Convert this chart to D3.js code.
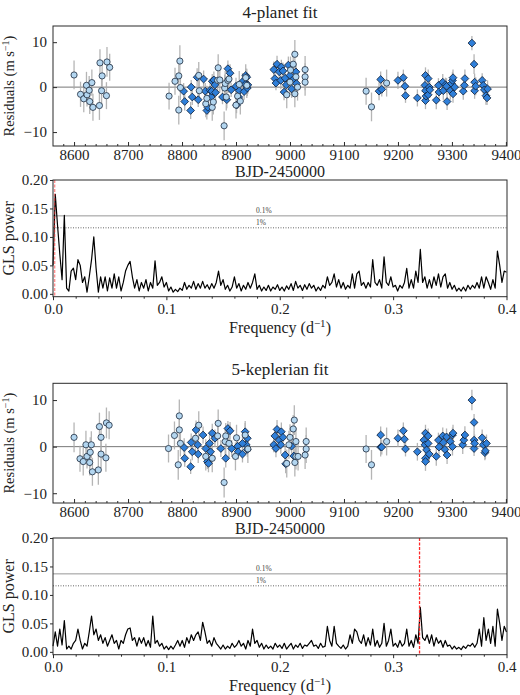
<!DOCTYPE html>
<html><head><meta charset="utf-8">
<script src="https://cdn.jsdelivr.net/npm/d3@7"></script>
<style>html,body{margin:0;padding:0;background:#fff}svg{display:block}</style>
</head><body>
<svg id="c" width="520" height="695"></svg>
<script>
// ---------- DATA ----------
const panelTitles = ["4-planet fit", "5-keplerian fit"];
const timeTicks = [8600, 8700, 8800, 8900, 9000, 9100, 9200, 9300, 9400];
const residTicks = [-10, 0, 10];
const freqTicks = [0.0, 0.1, 0.2, 0.3, 0.4];
const freqTickLabels = ["0.0", "0.1", "0.2", "0.3", "0.4"];
const glsTicks = [0.00, 0.05, 0.10, 0.15, 0.20];
const glsTickLabels = ["0.00", "0.05", "0.10", "0.15", "0.20"];
const faps = [0.137, 0.116];
const fapLabels = ["0.1%", "1%"];
const markedFreqs = [0.0015, 0.3233];

// 4-planet fit residuals: instrument 1 (circles)
const circA_t = [8600,8612,8618,8623,8624,8628,8629,8633,8635,8647,8648,8651,8652,8660,8661,8666,
 8776,8787,8794,8796,8794,8797,8831,8832,8844,8846,8856,8858,8866,8867,8870,8878,8879,8880,8882,8885,8887,8900,8903,8906,8908,8918,8920,
 8994,9000,9001,9006,9009,9009,9011,9014,9028,9028,9028,9141,9151,9179];
const circA_v = [2.7,-1.6,-2.6,0.4,-1.7,-0.7,-3.2,1.0,-4.5,-4.1,5.4,-0.8,2.5,-1.9,5.6,4.4,
 -2.0,1.3,2.5,5.8,-5.1,-0.1,2.6,-0.8,-3.7,-2.5,-4.5,-3.3,1.5,4.3,1.6,-8.6,-0.2,0.8,-2.2,1.5,1.8,-4.0,-2.0,0.6,-3.1,2.1,0.4,
 -1.7,1.1,3.8,5.1,7.3,-1.5,2.3,0.0,3.9,2.3,1.1,-0.9,-4.4,0.9];
const circA_e = [3.2,2.8,3.0,3.0,2.6,3.2,2.8,2.9,3.0,3.2,3.0,3.1,3.0,3.0,3.3,3.0,
 3.0,3.0,3.2,3.5,3.2,2.8,3.0,2.8,3.0,2.8,3.0,2.8,3.0,3.0,2.8,3.2,3.0,2.8,3.0,2.8,3.0,3.0,2.8,3.0,3.0,3.0,2.8,
 3.0,2.8,3.0,3.0,3.2,3.0,2.8,3.0,3.0,3.0,3.0,3.0,3.2,3.0];
// 4-planet fit residuals: instrument 2 (diamonds)
const diaA_t = [8803,8805,8817,8816,8819,8828,8830,8840,8843,8846,8848,8852,8854,8855,8856,8859,8861,8862,8875,8883,8885,8889,8891,8900,8901,8905,8906,8912,8915,8917,8918,8920,8921,8922,
 8970,8972,8974,8976,8980,8983,8984,8987,8989,8991,8993,8997,9000,9003,9005,9011,9012,
 9168,9165,9170,9200,9210,9213,9214,9236,9251,9250,9251,9251,9252,9256,9256,9258,9259,9271,9275,9276,9283,9284,9288,9291,9290,9297,9299,9301,9302,9302,9305,
 9321,9323,9324,9337,9341,9342,9342,9344,9356,9358,9360,9363,9365,9366];
const diaA_v = [-0.9,-3.2,0.0,-5.2,-2.2,2.2,-2.8,1.8,-0.9,-5.2,-4.5,-0.7,-2.2,-0.9,1.3,1.6,0.5,-1.2,-2.2,-2.8,4.1,3.1,-0.6,0.2,-4.0,-2.2,-0.8,1.2,-1.0,0.6,2.6,2.2,-0.2,0.5,
 3.9,1.9,0.9,5.1,3.4,1.5,4.5,3.6,-1.1,2.0,0.5,4.9,2.6,-0.4,1.6,3.4,0.8,
 1.7,-0.9,-0.5,1.5,2.1,0.2,-1.9,-2.4,2.6,0.4,-0.8,-3.0,-2.0,1.9,-1.7,0.0,-0.6,-2.9,0.4,-1.1,1.1,-0.8,0.5,-3.2,0.2,-0.8,0.8,1.5,2.1,-1.5,0.0,
 -0.9,0.4,1.9,9.8,5.1,1.1,-0.8,0.2,1.5,0.4,-0.6,-1.9,-2.4,-0.4];
const diaA_e = [1.8,2.0,1.6,1.9,1.8,2.0,1.6,1.9,1.8,2.0,1.6,1.9,1.8,2.0,1.6,1.9,1.8,2.0,1.6,1.9,1.8,2.0,1.6,1.9,1.8,2.0,1.6,1.9,1.8,2.0,1.6,1.9,1.8,2.0,
 1.8,2.0,1.6,1.9,1.8,2.0,1.6,1.9,1.8,2.0,1.6,1.9,1.8,2.0,1.6,1.9,1.8,
 1.8,2.0,1.6,1.9,1.8,2.0,1.6,1.9,1.8,2.0,1.6,1.9,1.8,2.0,1.6,1.9,1.8,2.0,1.6,1.9,1.8,2.0,1.6,1.9,1.8,2.0,1.6,1.9,1.8,2.0,1.6,1.9,
 1.8,2.0,1.6,2.2,1.9,1.8,2.0,1.6,1.9,1.8,2.0,1.6,1.9,1.8];

// 5-keplerian fit residuals: instrument 1 (circles)
const circB_t = [8600,8611,8617,8622,8624,8629,8630,8632,8634,8645,8647,8650,8650,8659,8660,8665,
 8775,8786,8795,8795,8793,8797,8825,8831,8844,8856,8866,8867,8878,8880,8881,8887,8899,8901,8917,8922,
 8994,8998,9000,9006,9008,9011,9011,9009,9015,9030,9030,9028,9141,9151,9179];
const circB_v = [2.0,-2.6,-3.2,0.4,-2.1,-3.4,-1.2,0.4,-5.4,-5.0,4.3,2.0,-1.6,-2.4,5.1,4.6,
 -0.4,2.4,3.6,6.6,-3.9,0.7,1.8,4.6,-2.1,-2.5,2.3,5.0,-7.7,1.1,2.3,0.7,-2.1,1.9,2.5,-0.5,
 -3.6,0.4,2.0,3.8,5.7,1.1,-2.1,-3.4,-2.1,1.1,-0.5,-1.8,-0.5,-3.9,1.1];
const circB_e = [3.2,2.8,3.0,3.0,2.6,2.8,3.2,2.9,3.0,3.2,3.0,3.0,3.1,3.0,3.3,3.0,
 3.0,3.0,3.2,3.5,3.2,2.8,3.0,3.0,3.0,3.0,3.0,3.0,3.2,3.0,2.8,3.0,3.0,2.8,3.0,3.0,
 3.0,3.0,2.8,3.0,3.2,3.0,2.8,3.0,3.0,3.0,3.0,3.0,3.0,3.2,3.0];
// 5-keplerian fit residuals: instrument 2 (diamonds)
const diaB_t = [8805,8804,8816,8817,8819,8826,8829,8830,8839,8844,8847,8849,8851,8856,8853,8861,8872,8881,8885,8889,8892,8903,8904,8917,8921,8919,8921,8912,8912,
 8972,8976,8970,8974,8980,8984,8987,8983,8991,8992,9003,9007,
 9168,9168,9170,9200,9210,9212,9214,9236,9251,9248,9250,9253,9251,9251,9256,9256,9258,9271,9275,9276,9283,9284,9287,9291,9290,9297,9301,9301,9302,
 9320,9322,9324,9337,9341,9341,9341,9342,9356,9358,9361,9364,9362];
const diaB_v = [-2.5,-0.2,-4.3,0.9,-1.1,3.6,0.4,-1.6,2.5,-0.4,-3.2,-3.6,0.7,2.9,-1.1,1.8,-0.4,-2.5,3.9,3.4,-0.4,0.1,-1.1,3.2,1.8,0.4,-0.6,0.7,-1.6,
 2.3,3.7,0.4,-0.4,1.4,3.2,2.0,0.4,-1.8,-3.7,0.1,-2.0,
 2.5,-0.1,-0.1,1.8,3.4,1.6,-0.5,-1.1,2.9,1.4,0.4,-0.7,-2.5,-3.2,2.3,0.7,-1.6,-2.1,1.4,-0.1,2.3,0.9,-0.6,-1.8,2.1,1.1,2.5,0.0,2.9,
 0.4,1.4,2.5,10.0,5.2,1.4,-0.4,0.7,1.9,0.4,-1.3,0.7,-0.9];
const diaB_e = [1.8,2.0,1.6,1.9,1.8,2.0,1.6,1.9,1.8,2.0,1.6,1.9,1.8,2.0,1.6,1.9,1.8,2.0,1.6,1.9,1.8,2.0,1.6,1.9,1.8,2.0,1.6,1.9,1.8,
 1.8,2.0,1.6,1.9,1.8,2.0,1.6,1.9,1.8,2.0,1.6,1.9,
 1.8,2.0,1.6,1.9,1.8,2.0,1.6,1.9,1.8,2.0,1.6,1.9,1.8,2.0,1.6,1.9,1.8,2.0,1.6,1.9,1.8,2.0,1.6,1.9,1.8,2.0,1.6,1.9,1.8,
 2.0,1.6,1.9,2.2,1.8,2.0,1.6,1.9,1.8,2.0,1.6,1.9,1.8];

// GLS periodograms of the residuals, frequency step 0.002 d^-1 from 0 to 0.4
const glsStep = 0.002;
const glsA = [0.05,0.175,0.12,0.07,0.025,0.138,0.01,0.005,0.04,0.045,0.025,0.06,0.05,0.02,0.03,0.003,0.03,0.06,0.10,0.045,
 0.003,0.03,0.01,0.03,0.005,0.028,0.01,0.035,0.01,0.03,0.005,0.02,0.04,0.05,0.057,0.03,0.01,0.025,0.005,0.02,
 0.01,0.025,0.005,0.02,0.01,0.058,0.015,0.02,0.03,0.012,0.02,0.005,0.012,0.003,0.008,0.004,0.01,0.006,0.02,0.008,
 0.015,0.01,0.022,0.008,0.018,0.01,0.022,0.01,0.016,0.008,0.018,0.01,0.02,0.04,0.015,0.025,0.008,0.015,0.005,0.012,
 0.03,0.01,0.018,0.005,0.015,0.008,0.02,0.01,0.02,0.035,0.008,0.015,0.005,0.012,0.006,0.015,0.005,0.012,0.008,0.016,
 0.006,0.012,0.005,0.014,0.008,0.018,0.006,0.022,0.01,0.015,0.006,0.016,0.008,0.018,0.01,0.015,0.005,0.012,0.006,0.015,
 0.01,0.03,0.015,0.02,0.035,0.012,0.025,0.01,0.02,0.008,0.015,0.01,0.035,0.01,0.035,0.04,0.015,0.02,0.01,0.02,
 0.012,0.06,0.02,0.015,0.025,0.01,0.065,0.02,0.015,0.03,0.012,0.015,0.005,0.015,0.01,0.02,0.045,0.01,0.025,0.01,
 0.04,0.02,0.078,0.02,0.03,0.01,0.025,0.01,0.03,0.015,0.035,0.012,0.03,0.035,0.01,0.02,0.008,0.015,0.005,0.01,
 0.005,0.012,0.005,0.015,0.008,0.015,0.01,0.02,0.01,0.03,0.01,0.03,0.02,0.008,0.025,0.01,0.075,0.05,0.02,0.04,0.038];
const glsB = [0.01,0.035,0.01,0.04,0.012,0.055,0.005,0.01,0.005,0.015,0.02,0.04,0.02,0.005,0.015,0.01,0.035,0.063,0.03,0.04,
 0.02,0.03,0.015,0.025,0.01,0.02,0.03,0.015,0.02,0.005,0.02,0.015,0.03,0.04,0.042,0.02,0.025,0.01,0.025,0.015,
 0.025,0.01,0.02,0.008,0.063,0.015,0.02,0.01,0.015,0.005,0.01,0.004,0.01,0.005,0.012,0.02,0.01,0.02,0.008,0.025,
 0.015,0.03,0.02,0.03,0.035,0.02,0.052,0.035,0.015,0.02,0.01,0.025,0.015,0.01,0.005,0.012,0.005,0.01,0.006,0.015,
 0.008,0.012,0.02,0.01,0.015,0.005,0.02,0.01,0.04,0.015,0.02,0.008,0.015,0.005,0.012,0.006,0.01,0.005,0.015,0.008,
 0.012,0.006,0.015,0.005,0.01,0.015,0.005,0.012,0.008,0.015,0.006,0.012,0.01,0.015,0.02,0.01,0.012,0.006,0.015,0.008,
 0.01,0.045,0.02,0.01,0.045,0.015,0.01,0.006,0.012,0.005,0.01,0.03,0.015,0.04,0.035,0.02,0.015,0.03,0.01,0.025,
 0.012,0.04,0.01,0.02,0.008,0.015,0.05,0.01,0.02,0.04,0.01,0.015,0.008,0.02,0.01,0.015,0.04,0.01,0.02,0.008,
 0.03,0.015,0.078,0.025,0.02,0.03,0.015,0.03,0.01,0.025,0.015,0.02,0.008,0.02,0.01,0.012,0.005,0.01,0.005,0.008,
 0.004,0.01,0.006,0.012,0.01,0.015,0.008,0.015,0.04,0.01,0.06,0.02,0.04,0.015,0.045,0.01,0.075,0.05,0.02,0.045,0.035];

// ---------- DRAWING ----------
const svg = d3.select("#c");
const FONT = "'Liberation Serif', 'DejaVu Serif', serif";
const L = 53, R = 507;

const xTime = d3.scaleLinear().domain([8561, 9402]).range([L, R]);
const xFreq = d3.scaleLinear().domain([0, 0.4]).range([L, 506.5]);

function frame(g, top, bottom) {
  g.append("rect").attr("x", L).attr("y", top).attr("width", R - L).attr("height", bottom - top)
    .attr("fill", "none").attr("stroke", "#2a2a2a").attr("stroke-width", 1);
}

function styleAxis(a) {
  a.select(".domain").remove();
  a.selectAll(".tick line").attr("stroke", "#2a2a2a");
  a.selectAll(".tick text").attr("font-family", FONT).attr("font-size", 15).attr("fill", "#222");
}

function residPanel(top, bottom, yDomain, title, cT, cV, cE, dT, dV, dE) {
  const g = svg.append("g");
  const y = d3.scaleLinear().domain(yDomain).range([bottom, top]);
  g.append("line").attr("x1", L).attr("x2", R).attr("y1", y(0)).attr("y2", y(0))
    .attr("stroke", "#777").attr("stroke-width", 1);
  const minor = d3.range(8580, 9401, 20).filter(v => v % 100 !== 0);
  g.append("g").attr("transform", `translate(0,${bottom})`)
    .call(d3.axisBottom(xTime).tickValues(minor).tickSize(-2).tickFormat(""))
    .call(a => { a.select(".domain").remove(); a.selectAll(".tick line").attr("stroke", "#2a2a2a"); });
  g.append("g").attr("transform", `translate(0,${bottom})`)
    .call(d3.axisBottom(xTime).tickValues(timeTicks).tickSize(-4).tickPadding(3).tickFormat(d3.format("d")))
    .call(styleAxis);
  g.append("g").attr("transform", `translate(${L},0)`)
    .call(d3.axisLeft(y).tickValues(residTicks).tickSize(-4).tickPadding(6)
      .tickFormat(d => d < 0 ? "\u2212" + Math.abs(d) : d))
    .call(styleAxis);

  const cData = cT.map((t, i) => ({ t, v: cV[i], e: cE[i] }));
  const dData = dT.map((t, i) => ({ t, v: dV[i], e: dE[i] }));
  const eb = g.append("g").attr("stroke", "#a9a9a9").attr("stroke-width", 1.3).attr("opacity", 0.85);
  eb.selectAll("line.c").data(cData).join("line")
    .attr("x1", d => xTime(d.t)).attr("x2", d => xTime(d.t))
    .attr("y1", d => y(d.v - d.e)).attr("y2", d => y(d.v + d.e));
  eb.selectAll("line.d").data(dData).join("line")
    .attr("x1", d => xTime(d.t)).attr("x2", d => xTime(d.t))
    .attr("y1", d => y(d.v - d.e)).attr("y2", d => y(d.v + d.e));

  const dia = d3.symbol().type(d3.symbolSquare).size(30);
  g.append("g").selectAll("path").data(dData).join("path")
    .attr("d", dia)
    .attr("transform", d => `translate(${xTime(d.t)},${y(d.v)}) rotate(45)`)
    .attr("fill", "#2f7fd9").attr("stroke", "#12243d").attr("stroke-width", 0.8);
  g.append("g").selectAll("circle").data(cData).join("circle")
    .attr("cx", d => xTime(d.t)).attr("cy", d => y(d.v)).attr("r", 3.1)
    .attr("fill", "#b3d6f0").attr("stroke", "#1d2b3d").attr("stroke-width", 0.8);

  frame(g, top, bottom);

  g.append("text").attr("x", 280).attr("y", top - 8).attr("text-anchor", "middle")
    .attr("font-family", FONT).attr("font-size", 17).attr("fill", "#222").text(title);
  const yl = g.append("text").attr("transform", `translate(14,${(top + bottom) / 2}) rotate(-90)`)
    .attr("text-anchor", "middle").attr("font-family", FONT).attr("font-size", 14.5).attr("fill", "#222");
  yl.append("tspan").text("Residuals (m s");
  yl.append("tspan").attr("font-size", 10).attr("dy", -5.5).text("\u22121");
  yl.append("tspan").attr("dy", 5.5).text(")");
  g.append("text").attr("x", 280).attr("y", bottom + 31).attr("text-anchor", "middle")
    .attr("font-family", FONT).attr("font-size", 16).attr("fill", "#222").text("BJD-2450000");
}

function glsPanel(top, bottom, values, markF, markOpacity) {
  const g = svg.append("g");
  const y = d3.scaleLinear().domain([-0.005, 0.2]).range([bottom, top]);
  g.append("line").attr("x1", L).attr("x2", R).attr("y1", y(faps[0])).attr("y2", y(faps[0]))
    .attr("stroke", "#8a8a8a").attr("stroke-width", 0.9);
  g.append("line").attr("x1", L).attr("x2", R).attr("y1", y(faps[1])).attr("y2", y(faps[1]))
    .attr("stroke", "#555").attr("stroke-width", 0.9).attr("stroke-dasharray", "1,1.5");
  fapLabels.forEach((lab, i) => {
    g.append("text").attr("x", 256).attr("y", y(faps[i]) - 2.5)
      .attr("font-family", FONT).attr("font-size", 7.5).attr("fill", "#444").text(lab);
  });
  const line = d3.line().x((d, i) => xFreq(i * glsStep)).y(d => y(d));
  g.append("path").datum(values).attr("d", line).attr("fill", "none")
    .attr("stroke", "#000").attr("stroke-width", 1.2).attr("stroke-linejoin", "round");
  g.append("line").attr("x1", xFreq(markF)).attr("x2", xFreq(markF)).attr("y1", top).attr("y2", bottom)
    .attr("stroke", "#ff2a2a").attr("stroke-width", 1.3).attr("stroke-dasharray", "3,1.5").attr("opacity", markOpacity);

  const minor = d3.range(0.02, 0.4, 0.02).filter((v, i) => (i + 1) % 5 !== 0);
  g.append("g").attr("transform", `translate(0,${bottom})`)
    .call(d3.axisBottom(xFreq).tickValues(minor).tickSize(2).tickFormat(""))
    .call(a => { a.select(".domain").remove(); a.selectAll(".tick line").attr("stroke", "#2a2a2a"); });
  g.append("g").attr("transform", `translate(0,${bottom})`)
    .call(d3.axisBottom(xFreq).tickValues(freqTicks).tickSize(3.5).tickPadding(3.5)
      .tickFormat((d, i) => freqTickLabels[i]))
    .call(styleAxis);
  g.append("g").attr("transform", `translate(${L},0)`)
    .call(d3.axisLeft(y).tickValues(glsTicks).tickSize(3).tickPadding(2)
      .tickFormat((d, i) => glsTickLabels[i]))
    .call(styleAxis);

  frame(g, top, bottom);

  g.append("text").attr("transform", `translate(14,${(top + bottom) / 2}) rotate(-90)`)
    .attr("text-anchor", "middle").attr("font-family", FONT).attr("font-size", 16).attr("fill", "#222")
    .text("GLS power");
  const xl = g.append("text").attr("x", 280).attr("y", bottom + 36).attr("text-anchor", "middle")
    .attr("font-family", FONT).attr("font-size", 16).attr("fill", "#222");
  xl.append("tspan").text("Frequency (d");
  xl.append("tspan").attr("font-size", 11).attr("dy", -6).text("\u22121");
  xl.append("tspan").attr("dy", 6).text(")");
}

residPanel(26, 146, [-13.1, 13.6], panelTitles[0], circA_t, circA_v, circA_e, diaA_t, diaA_v, diaA_e);
glsPanel(180, 296.7, glsA, markedFreqs[0], 0.55);
residPanel(383.3, 503, [-12.1, 13.6], panelTitles[1], circB_t, circB_v, circB_e, diaB_t, diaB_v, diaB_e);
glsPanel(538, 654.7, glsB, markedFreqs[1], 1);
</script>
</body></html>
